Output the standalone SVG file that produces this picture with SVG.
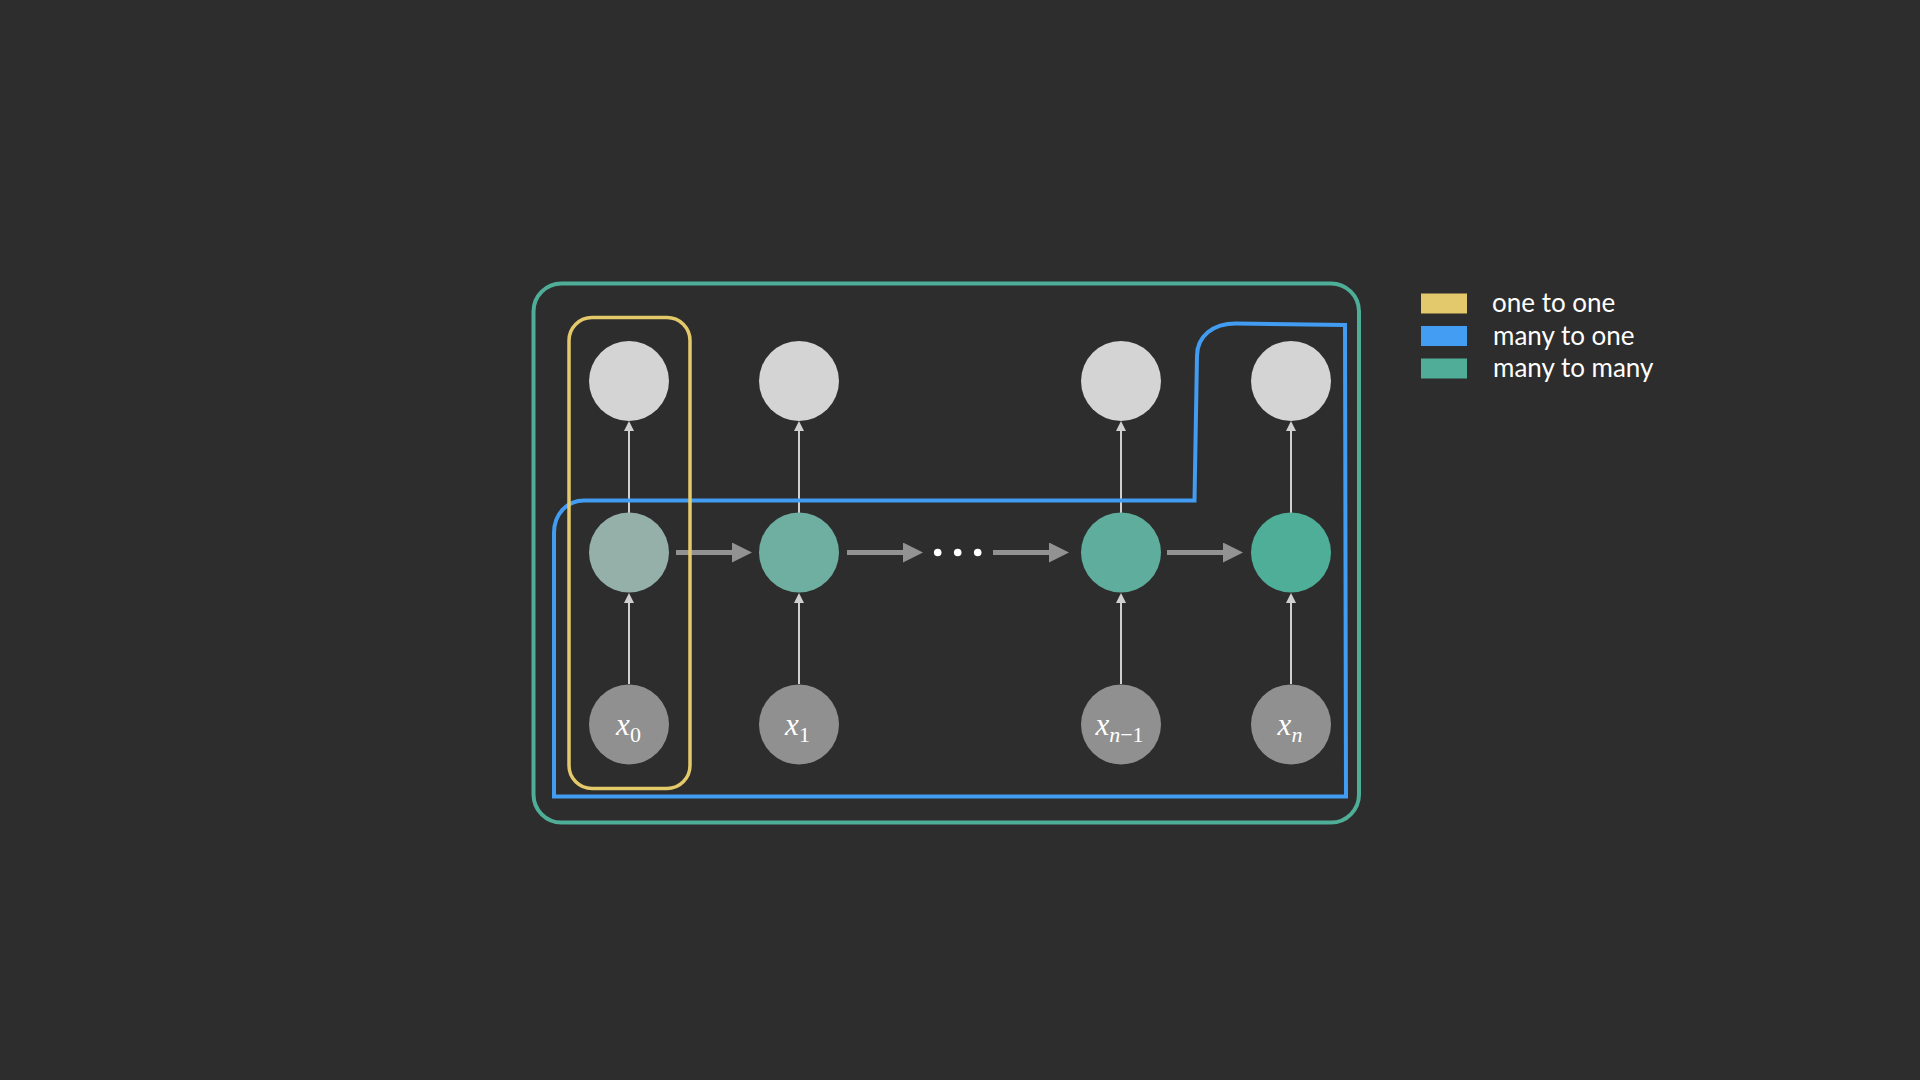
<svg xmlns="http://www.w3.org/2000/svg" width="1920" height="1080" viewBox="0 0 1920 1080">
<defs>
<style>
.thin{stroke:#d0d0d0;stroke-width:2;fill:none}
.thick{stroke:#929292;stroke-width:5;fill:none}
.top{fill:#d4d4d4}
.inp{fill:#909090}
.math{font-family:"Liberation Serif","DejaVu Serif",serif;fill:#ffffff;font-size:31px}
.sub{font-size:22px}
.legend{font-family:Lato,"Liberation Sans",sans-serif;fill:#ffffff;font-size:26px}
.box{fill:none}
</style>
<marker id="headThin" markerUnits="userSpaceOnUse" viewBox="0 0 10 10" refX="0" refY="5" markerWidth="10" markerHeight="10" orient="auto">
<path d="M0,0 L10,5 L0,10 Z" fill="#d0d0d0"/>
</marker>
<marker id="headThick" markerUnits="userSpaceOnUse" viewBox="0 0 20 20" refX="0" refY="10" markerWidth="20" markerHeight="20" orient="auto">
<path d="M0,0 L20,10 L0,20 Z" fill="#929292"/>
</marker>
</defs>
<rect width="1920" height="1080" fill="#2d2d2d"/>

<g id="connectors">
<line class="thin" x1="629" y1="684" x2="629" y2="603" marker-end="url(#headThin)"/>
<line class="thin" x1="799" y1="684" x2="799" y2="603" marker-end="url(#headThin)"/>
<line class="thin" x1="1121" y1="684" x2="1121" y2="603" marker-end="url(#headThin)"/>
<line class="thin" x1="1291" y1="684" x2="1291" y2="603" marker-end="url(#headThin)"/>
<line class="thin" x1="629" y1="513" x2="629" y2="431" marker-end="url(#headThin)"/>
<line class="thin" x1="799" y1="513" x2="799" y2="431" marker-end="url(#headThin)"/>
<line class="thin" x1="1121" y1="513" x2="1121" y2="431" marker-end="url(#headThin)"/>
<line class="thin" x1="1291" y1="513" x2="1291" y2="431" marker-end="url(#headThin)"/>
<line class="thick" x1="676" y1="552.5" x2="732" y2="552.5" marker-end="url(#headThick)"/>
<line class="thick" x1="847" y1="552.5" x2="903" y2="552.5" marker-end="url(#headThick)"/>
<line class="thick" x1="993" y1="552.5" x2="1049" y2="552.5" marker-end="url(#headThick)"/>
<line class="thick" x1="1167" y1="552.5" x2="1223" y2="552.5" marker-end="url(#headThick)"/>
<circle cx="937.7" cy="552.5" r="3.8" fill="#ffffff"/>
<circle cx="957.7" cy="552.5" r="3.8" fill="#ffffff"/>
<circle cx="977.7" cy="552.5" r="3.8" fill="#ffffff"/>
</g>

<g id="y0"><circle class="top" cx="629" cy="381" r="40"/></g>
<g id="y1"><circle class="top" cx="799" cy="381" r="40"/></g>
<g id="yn1"><circle class="top" cx="1121" cy="381" r="40"/></g>
<g id="yn"><circle class="top" cx="1291" cy="381" r="40"/></g>

<g id="h0"><circle cx="629" cy="552.5" r="40" fill="#94b0a9"/></g>
<g id="h1"><circle cx="799" cy="552.5" r="40" fill="#6eafa2"/></g>
<g id="hn1"><circle cx="1121" cy="552.5" r="40" fill="#5fae9d"/></g>
<g id="hn"><circle cx="1291" cy="552.5" r="40" fill="#4eae97"/></g>

<g id="x0"><circle class="inp" cx="629" cy="724.5" r="40"/>
<text class="math" x="628.5" y="735" text-anchor="middle"><tspan font-style="italic">x</tspan><tspan class="sub" dy="7">0</tspan></text></g>
<g id="x1"><circle class="inp" cx="799" cy="724.5" r="40"/>
<text class="math" x="797.5" y="735" text-anchor="middle"><tspan font-style="italic">x</tspan><tspan class="sub" dy="7">1</tspan></text></g>
<g id="xn1"><circle class="inp" cx="1121" cy="724.5" r="40"/>
<text class="math" x="1119.5" y="735" text-anchor="middle"><tspan font-style="italic">x</tspan><tspan class="sub" dy="7" font-style="italic">n</tspan><tspan class="sub">−1</tspan></text></g>
<g id="xn"><circle class="inp" cx="1291" cy="724.5" r="40"/>
<text class="math" x="1290" y="735" text-anchor="middle"><tspan font-style="italic">x</tspan><tspan class="sub" dy="7" font-style="italic">n</tspan></text></g>

<g id="many-to-one">
<path class="box" d="M554,796.5 L554,533 C554,514 567,500.5 584,500.5 L1194.5,500.5 L1197,356 C1197,336 1213,323.5 1236,323.5 L1345,325 L1346,796.5 Z" stroke="#419cf2" stroke-width="4" stroke-linejoin="miter"/>
</g>
<g id="one-to-one">
<rect class="box" x="569" y="317.5" width="121" height="471" rx="23" ry="23" stroke="#e4c96a" stroke-width="3.5"/>
</g>
<g id="many-to-many">
<rect class="box" x="533.5" y="283.5" width="825.5" height="539" rx="28" ry="28" stroke="#4fae97" stroke-width="4"/>
</g>

<g id="legend">
<rect x="1421" y="293.5" width="46" height="20" fill="#e3c96b"/>
<rect x="1421" y="326" width="46" height="20" fill="#429df3"/>
<rect x="1421" y="358.5" width="46" height="20" fill="#50ae98"/>
<text class="legend" x="1492" y="312">one to one</text>
<text class="legend" x="1493" y="345">many to one</text>
<text class="legend" x="1493" y="377">many to many</text>
</g>
</svg>
